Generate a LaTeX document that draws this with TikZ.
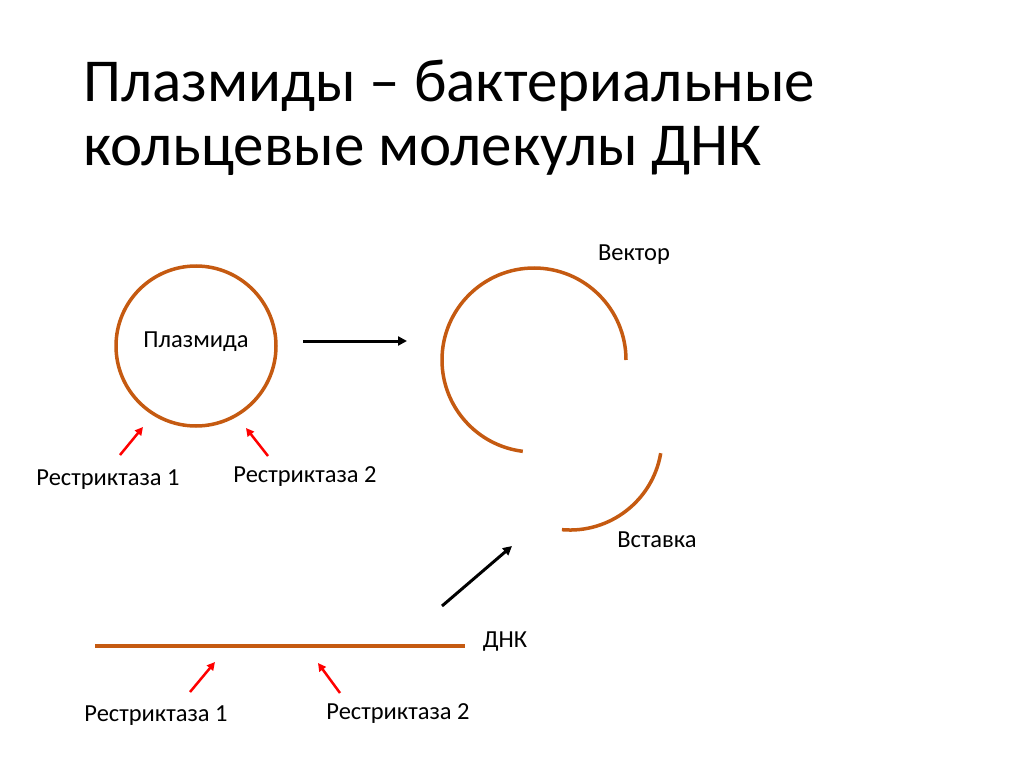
\documentclass[tikz,border=0pt]{standalone}
\usepackage{fontspec}
\setmainfont{Carlito}
\usetikzlibrary{arrows.meta}
\definecolor{brn}{RGB}{197,90,17}
\tikzset{
 mol/.style={draw=brn,line width=3.5pt},
 blk/.style={draw=black,line width=3pt,-{Triangle[length=9pt,width=9pt]}},
 red/.style={draw=red,line width=2.5pt,-{Triangle[length=8pt,width=8pt]}},
 lbl/.style={font=\fontsize{24.5}{28}\selectfont,inner sep=0pt},
 ttl/.style={font=\fontsize{61}{70}\selectfont,anchor=base west,inner sep=0pt}
}
\begin{document}
\begin{tikzpicture}[x=1pt,y=-1pt]
\useasboundingbox (0,0) rectangle (1024,767);
\node[ttl] (t1) at (83,102) {Плазмиды – бактериальные};
\node[ttl] (t2) at (83,166) {кольцевые молекулы ДНК};
\node[mol,circle,minimum size=160pt] (pl) at (196,346) {};
\node[lbl] (pll) at (196,342) {Плазмида};
\coordinate (a1) at (303,341); \coordinate (a2) at (407,341);
\draw[blk] (a1) -- (a2);
\draw[mol] (626,360) arc[start angle=0,end angle=-263,radius=92];
\draw[mol] (660.7,453.2) arc[start angle=9.5,end angle=95,radius=92];
\node[lbl] (vec) at (634,255) {Вектор};
\node[lbl] (ins) at (657,540) {Вставка};
\coordinate (b1) at (442,606); \coordinate (b2) at (512,546);
\draw[blk] (b1) -- (b2);
\coordinate (d1) at (95,646); \coordinate (d2) at (465,646);
\draw[mol] (d1) -- (d2);
\node[lbl] (dnk) at (505,642) {ДНК};
\coordinate (r1a) at (120,455); \coordinate (r1b) at (143,427);
\coordinate (r2a) at (268,456); \coordinate (r2b) at (246,428);
\coordinate (r3a) at (190,692); \coordinate (r3b) at (215,662);
\coordinate (r4a) at (340,693); \coordinate (r4b) at (318,663);
\draw[red] (r1a) -- (r1b);
\draw[red] (r2a) -- (r2b);
\draw[red] (r3a) -- (r3b);
\draw[red] (r4a) -- (r4b);
\node[lbl] (l1) at (108,480) {Рестриктаза 1};
\node[lbl] (l2) at (305,477) {Рестриктаза 2};
\node[lbl] (l3) at (156,716) {Рестриктаза 1};
\node[lbl] (l4) at (398,714) {Рестриктаза 2};
\end{tikzpicture}
\end{document}
